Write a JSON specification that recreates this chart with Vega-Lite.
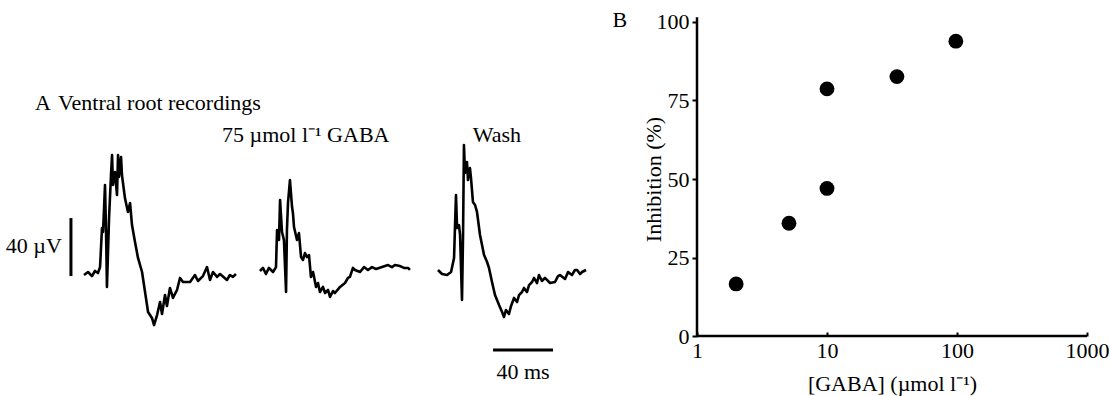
{
  "$schema": "https://vega.github.io/schema/vega-lite/v6.json",
  "padding": 0,
  "background": "white",
  "bounds": "flush",
  "spacing": 47,
  "config": {"view": {"stroke": null}, "font": "Liberation Serif"},
  "datasets": {
    "traces": [
      {"s":"Control","t":0,"v":-2.1},{"s":"Control","t":2.7,"v":0},{"s":"Control","t":5.3,"v":-2.8},{"s":"Control","t":7.3,"v":0.7},{"s":"Control","t":9.3,"v":-0.7},{"s":"Control","t":10.7,"v":3.4},{"s":"Control","t":12,"v":30.3},{"s":"Control","t":12.7,"v":27.6},{"s":"Control","t":14,"v":60},{"s":"Control","t":14.7,"v":27.6},{"s":"Control","t":15.3,"v":-10.3},{"s":"Control","t":16.7,"v":37.2},{"s":"Control","t":18,"v":66.9},{"s":"Control","t":18.7,"v":80.7},{"s":"Control","t":19.3,"v":60},{"s":"Control","t":20.7,"v":69},{"s":"Control","t":22,"v":53.1},{"s":"Control","t":22.7,"v":80.7},{"s":"Control","t":23.3,"v":65.5},{"s":"Control","t":24.7,"v":79.3},{"s":"Control","t":25.3,"v":66.9},{"s":"Control","t":27.3,"v":51},{"s":"Control","t":29.3,"v":41.4},{"s":"Control","t":30.7,"v":47.6},{"s":"Control","t":32,"v":32.4},{"s":"Control","t":34,"v":20.7},{"s":"Control","t":36,"v":9.7},{"s":"Control","t":38.7,"v":0},{"s":"Control","t":40.7,"v":-13.8},{"s":"Control","t":42.7,"v":-27.6},{"s":"Control","t":45.3,"v":-31.7},{"s":"Control","t":46.7,"v":-36.6},{"s":"Control","t":48.7,"v":-29.7},{"s":"Control","t":50.7,"v":-20.7},{"s":"Control","t":52,"v":-29},{"s":"Control","t":54,"v":-15.9},{"s":"Control","t":55.3,"v":-23.4},{"s":"Control","t":57.3,"v":-11},{"s":"Control","t":59.3,"v":-17.9},{"s":"Control","t":62,"v":-12.4},{"s":"Control","t":64,"v":-4.1},{"s":"Control","t":66,"v":-6.9},{"s":"Control","t":70.7,"v":-6.9},{"s":"Control","t":74,"v":-2.1},{"s":"Control","t":76,"v":-6.2},{"s":"Control","t":79.3,"v":-2.8},{"s":"Control","t":82,"v":3.4},{"s":"Control","t":84,"v":-5.5},{"s":"Control","t":86,"v":0},{"s":"Control","t":88.7,"v":-3.4},{"s":"Control","t":90.7,"v":-1.4},{"s":"Control","t":95.3,"v":-5.5},{"s":"Control","t":97.3,"v":-2.1},{"s":"Control","t":99.3,"v":-3.4},{"s":"Control","t":101.3,"v":-1.4},
      {"s":"GABA","t":117.3,"v":0.7},{"s":"GABA","t":119.3,"v":2.8},{"s":"GABA","t":121.3,"v":-1.4},{"s":"GABA","t":123.3,"v":2.8},{"s":"GABA","t":126,"v":0},{"s":"GABA","t":128,"v":3.4},{"s":"GABA","t":128.7,"v":29},{"s":"GABA","t":130,"v":22.1},{"s":"GABA","t":130.7,"v":49.7},{"s":"GABA","t":132,"v":27.6},{"s":"GABA","t":133.3,"v":22.1},{"s":"GABA","t":134.7,"v":-13.8},{"s":"GABA","t":135.3,"v":29},{"s":"GABA","t":136,"v":47.6},{"s":"GABA","t":137.3,"v":63.4},{"s":"GABA","t":138.7,"v":44.8},{"s":"GABA","t":139.3,"v":40.7},{"s":"GABA","t":140,"v":31},{"s":"GABA","t":142,"v":22.1},{"s":"GABA","t":143.3,"v":26.9},{"s":"GABA","t":144.7,"v":10.3},{"s":"GABA","t":146,"v":8.3},{"s":"GABA","t":147.3,"v":13.1},{"s":"GABA","t":148.7,"v":10.3},{"s":"GABA","t":150,"v":11.7},{"s":"GABA","t":151.3,"v":-3.4},{"s":"GABA","t":152.7,"v":0},{"s":"GABA","t":154.7,"v":-10.3},{"s":"GABA","t":156,"v":-7.6},{"s":"GABA","t":157.3,"v":-13.8},{"s":"GABA","t":159.3,"v":-10.3},{"s":"GABA","t":160.7,"v":-14.5},{"s":"GABA","t":162.7,"v":-12.4},{"s":"GABA","t":164,"v":-17.2},{"s":"GABA","t":166,"v":-13.1},{"s":"GABA","t":167.3,"v":-14.5},{"s":"GABA","t":170.7,"v":-10.3},{"s":"GABA","t":174,"v":-7.6},{"s":"GABA","t":176,"v":-4.1},{"s":"GABA","t":177.3,"v":-3.4},{"s":"GABA","t":179.3,"v":2.8},{"s":"GABA","t":180.7,"v":1.4},{"s":"GABA","t":184,"v":0},{"s":"GABA","t":186.7,"v":3.4},{"s":"GABA","t":189.3,"v":1.4},{"s":"GABA","t":192,"v":3.4},{"s":"GABA","t":194.7,"v":2.1},{"s":"GABA","t":198.7,"v":3.4},{"s":"GABA","t":202.7,"v":4.8},{"s":"GABA","t":205.3,"v":3.4},{"s":"GABA","t":207.3,"v":4.8},{"s":"GABA","t":210.7,"v":4.1},{"s":"GABA","t":213.3,"v":2.8},{"s":"GABA","t":216,"v":2.8},{"s":"GABA","t":217.3,"v":1.4},
      {"s":"Wash","t":236,"v":1.4},{"s":"Wash","t":238.7,"v":-1.4},{"s":"Wash","t":242,"v":-2.1},{"s":"Wash","t":244.7,"v":0},{"s":"Wash","t":246.7,"v":9.7},{"s":"Wash","t":247.3,"v":30.3},{"s":"Wash","t":248,"v":53.1},{"s":"Wash","t":248.7,"v":30.3},{"s":"Wash","t":250,"v":32.4},{"s":"Wash","t":250.7,"v":25.5},{"s":"Wash","t":252,"v":-19.3},{"s":"Wash","t":252.7,"v":25.5},{"s":"Wash","t":253.3,"v":87.6},{"s":"Wash","t":254,"v":68.3},{"s":"Wash","t":255.3,"v":75.9},{"s":"Wash","t":256,"v":63.4},{"s":"Wash","t":257.3,"v":71.7},{"s":"Wash","t":258,"v":64.8},{"s":"Wash","t":259.3,"v":48.3},{"s":"Wash","t":260.7,"v":46.2},{"s":"Wash","t":262,"v":41.4},{"s":"Wash","t":264,"v":25.5},{"s":"Wash","t":266.7,"v":11.7},{"s":"Wash","t":267.3,"v":10.3},{"s":"Wash","t":268.7,"v":6.9},{"s":"Wash","t":270,"v":2.8},{"s":"Wash","t":272,"v":-6.9},{"s":"Wash","t":274,"v":-15.9},{"s":"Wash","t":276.7,"v":-22.8},{"s":"Wash","t":278.7,"v":-27.6},{"s":"Wash","t":280,"v":-31},{"s":"Wash","t":281.3,"v":-26.2},{"s":"Wash","t":283.3,"v":-29},{"s":"Wash","t":284.7,"v":-23.4},{"s":"Wash","t":286.7,"v":-17.9},{"s":"Wash","t":288.7,"v":-20.7},{"s":"Wash","t":290,"v":-15.9},{"s":"Wash","t":292,"v":-13.8},{"s":"Wash","t":293.3,"v":-11},{"s":"Wash","t":295.3,"v":-13.8},{"s":"Wash","t":296.7,"v":-9},{"s":"Wash","t":298.7,"v":-6.9},{"s":"Wash","t":300,"v":-4.1},{"s":"Wash","t":302,"v":-7.6},{"s":"Wash","t":303.3,"v":-2.1},{"s":"Wash","t":305.3,"v":-6.2},{"s":"Wash","t":307.3,"v":-4.1},{"s":"Wash","t":310.7,"v":-7.6},{"s":"Wash","t":314,"v":-6.9},{"s":"Wash","t":316,"v":-2.8},{"s":"Wash","t":317.3,"v":-2.1},{"s":"Wash","t":320.7,"v":-4.8},{"s":"Wash","t":322.7,"v":0},{"s":"Wash","t":325.3,"v":-2.1},{"s":"Wash","t":327.3,"v":1.4},{"s":"Wash","t":328.7,"v":1.4},{"s":"Wash","t":330.7,"v":-1.4},{"s":"Wash","t":332,"v":0},{"s":"Wash","t":334.7,"v":1.4}
    ],
    "scalebars": [
      {"bar":"40 µV","t":-8.7,"t2":-8.7,"v":-2.8,"v2":37.2},
      {"bar":"40 ms","t":272.7,"t2":312.7,"v":-53.8,"v2":-53.8}
    ],
    "leftText": [
      {"label":"A","t":-32.7,"v":116.6},
      {"label":"Ventral root recordings","t":-17.3,"v":116.6},
      {"label":"75 µmol l⁻¹ GABA","t":92,"v":94.5}
    ],
    "centerText": [
      {"label":"Wash","t":275.3,"v":94.5},
      {"label":"40 ms","t":292.7,"v":-69},
      {"label":"B","t":357.3,"v":173.8}
    ],
    "rightText": [
      {"label":"40 µV","t":-14.7,"v":17.9}
    ],
    "inhibition": [
      {"conc":2,"inhib":16.6},
      {"conc":5.1,"inhib":35.9},
      {"conc":10,"inhib":47},
      {"conc":10,"inhib":78.7},
      {"conc":34.5,"inhib":82.6},
      {"conc":98,"inhib":93.9}
    ],
    "axisLines": [
      {"conc":1,"conc2":1,"inhib":0,"inhib2":101.5},
      {"conc":1,"conc2":1000,"inhib":0,"inhib2":0}
    ]
  },
  "hconcat": [
    {
      "width": 650,
      "height": 396,
      "encoding": {
        "x": {"field":"t","type":"quantitative","axis":null,"scale":{"domain":[-56,377.333],"nice":false,"zero":false}},
        "y": {"field":"v","type":"quantitative","axis":null,"scale":{"domain":[-85.52,187.59],"nice":false,"zero":false}}
      },
      "layer": [
        {
          "data": {"name":"traces"},
          "mark": {"type":"line","color":"black","strokeWidth":2.6,"strokeJoin":"round","interpolate":"linear"},
          "encoding": {"detail":{"field":"s","type":"nominal"}}
        },
        {
          "data": {"name":"scalebars"},
          "mark": {"type":"rule","color":"black","strokeWidth":3},
          "encoding": {"x2":{"field":"t2"},"y2":{"field":"v2"}}
        },
        {
          "data": {"name":"leftText"},
          "mark": {"type":"text","align":"left","baseline":"middle","font":"Liberation Serif","fontSize":22,"letterSpacing":0.4,"color":"black"},
          "encoding": {"text":{"field":"label"}}
        },
        {
          "data": {"name":"centerText"},
          "mark": {"type":"text","align":"center","baseline":"middle","font":"Liberation Serif","fontSize":22,"color":"black"},
          "encoding": {"text":{"field":"label"}}
        },
        {
          "data": {"name":"rightText"},
          "mark": {"type":"text","align":"right","baseline":"middle","font":"Liberation Serif","fontSize":22,"color":"black"},
          "encoding": {"text":{"field":"label"}}
        }
      ]
    },
    {
      "width": 390,
      "height": 396,
      "encoding": {
        "x": {"field":"conc","type":"quantitative","scale":{"type":"log","domain":[1,1000],"nice":false},
          "axis":{"values":[1,10,100,1000],"format":"d","offset":-60,"domain":false,"grid":false,
            "ticks":true,"tickSize":-4,"tickWidth":2,"tickColor":"black","labelPadding":8,
            "labelFont":"Liberation Serif","labelFontSize":22,"labelColor":"black","labelFlush":false,
            "title":"[GABA] (µmol l⁻¹)","titleFont":"Liberation Serif","titleFontSize":22,"titleFontWeight":"normal","titleColor":"black",
            "titleY":47,"titleBaseline":"middle","titleX":195,"titleAlign":"center"}},
        "y": {"field":"inhib","type":"quantitative","scale":{"domain":[-19.1,107],"nice":false,"zero":false},
          "axis":{"values":[0,25,50,75,100],"domain":false,"grid":false,"ticks":true,"tickSize":5,"tickWidth":2,"tickColor":"black",
            "labelPadding":3,"labelFont":"Liberation Serif","labelFontSize":22,"labelColor":"black","labelFlush":false,
            "title":"Inhibition (%)","titleFont":"Liberation Serif","titleFontSize":22,"titleFontWeight":"normal","titleColor":"black",
            "titleX":-44,"titleY":179,"titleAngle":-90,"titleAlign":"center","titleBaseline":"middle"}}
      },
      "layer": [
        {
          "data": {"name":"axisLines"},
          "mark": {"type":"rule","color":"black","strokeWidth":2.5},
          "encoding": {"x2":{"field":"conc2"},"y2":{"field":"inhib2"}}
        },
        {
          "data": {"name":"inhibition"},
          "mark": {"type":"point","shape":"circle","filled":true,"color":"black","opacity":1,"size":220}
        }
      ]
    }
  ]
}
